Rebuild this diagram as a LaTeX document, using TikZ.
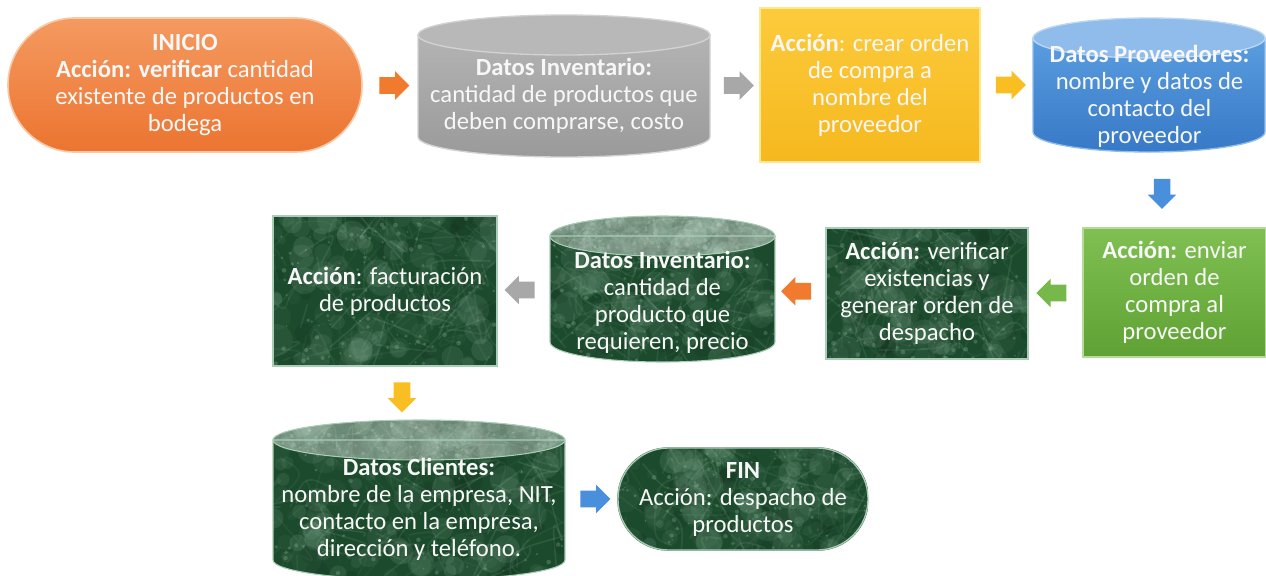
\documentclass[tikz,border=0pt]{standalone}
\usepackage{fontspec}
\setmainfont{Carlito}
\usetikzlibrary{shapes.arrows,calc}
\pgfdeclarelayer{bg}
\pgfsetlayers{bg,main}
\definecolor{orA}{HTML}{F49A60}
\definecolor{orB}{HTML}{EC7430}
\definecolor{orE}{HTML}{F9C9A6}
\definecolor{grB}{HTML}{9A9A9A}
\definecolor{grT}{HTML}{B8B8B8}
\definecolor{grE}{HTML}{D2D2D2}
\definecolor{ylA}{HTML}{FCCB3C}
\definecolor{ylB}{HTML}{F6B81E}
\definecolor{ylE}{HTML}{FDE890}
\definecolor{blA}{HTML}{5A9DE0}
\definecolor{blB}{HTML}{3779C6}
\definecolor{blT}{HTML}{8FBCEA}
\definecolor{gnA}{HTML}{80C052}
\definecolor{gnB}{HTML}{5FA134}
\definecolor{gnE}{HTML}{B5DB98}
\definecolor{mbB}{HTML}{1C4A2D}
\definecolor{mbV}{HTML}{A8CDB4}
\definecolor{mbE}{HTML}{A9CDB6}
\definecolor{txt}{HTML}{F7F7F7}
\definecolor{arO}{HTML}{F07A2E}
\definecolor{arG}{HTML}{A8A8A8}
\definecolor{arY}{HTML}{F8BE22}
\definecolor{arB}{HTML}{4A8FDB}
\definecolor{arN}{HTML}{76B84A}
\newcommand\cylbody[6]{\path[#1] (#2,#3+#6) -- (#2,#5-#6) arc[start angle=180,end angle=360,x radius={(#4-#2)*0.375pt},y radius={#6*0.75pt}] -- (#4,#3+#6) -- cycle;}
\newcommand\cyltop[6]{\path[#1] ({(#2+#4)/2},#3+#6) ellipse[x radius={(#4-#2)*0.375pt},y radius={#6*0.75pt}];}
\newcommand\marbletex[4]{%
  \foreach \k in {1,...,90}{%
    \pgfmathsetmacro\mA{#1+rnd*(#3-#1)}%
    \pgfmathsetmacro\mB{#2+rnd*(#4-#2)}%
    \pgfmathsetmacro\mC{\mA+rand*35}%
    \pgfmathsetmacro\mD{\mB+rand*35}%
    \pgfmathsetmacro\mE{\mA+rand*60}%
    \pgfmathsetmacro\mF{\mB+rand*60}%
    \pgfmathsetmacro\mO{0.04+0.10*rnd}%
    \draw[mbV, opacity=\mO, line width=1.2pt] (\mA,\mB) .. controls (\mC,\mD) .. (\mE,\mF);
  }%
  \foreach \k in {1,...,90}{%
    \pgfmathsetmacro\mA{#1+rnd*(#3-#1)}%
    \pgfmathsetmacro\mB{#2+rnd*(#4-#2)}%
    \pgfmathsetmacro\mR{3+9*rnd}%
    \pgfmathsetmacro\mO{0.04+0.10*rnd}%
    \fill[mbV, opacity=\mO] (\mA,\mB) circle[radius=\mR pt];
  }%
  \foreach \k in {1,...,120}{%
    \pgfmathsetmacro\mA{#1+rnd*(#3-#1)}%
    \pgfmathsetmacro\mB{#2+rnd*(#4-#2)}%
    \pgfmathsetmacro\mR{0.6+1.2*rnd}%
    \fill[mbV, opacity=0.25] (\mA,\mB) circle[radius=\mR pt];
  }%
  \foreach \k in {1,...,30}{%
    \pgfmathsetmacro\mA{#1+rnd*(#3-#1)}%
    \pgfmathsetmacro\mB{#2+rnd*(#4-#2)}%
    \pgfmathsetmacro\mR{3+6*rnd}%
    \fill[black, opacity=0.07] (\mA,\mB) circle[radius=\mR pt];
  }%
}
\tikzset{
  lbl/.style={font=\fontsize{18.5}{20.25}\selectfont, text=txt, align=center, inner sep=0pt},
  ghost/.style={inner sep=0pt, draw=none},
  blk/.style={single arrow, draw=none, minimum height=22.5pt, inner xsep=0pt, inner ysep=6pt,
    single arrow head extend=4.5pt, fill=#1},
}
\begin{document}
\begin{tikzpicture}[x=0.75pt,y=-0.75pt]
\pgfmathsetseed{7}
\useasboundingbox (0,0) rectangle (1266,575);
% ---------- nodes ----------
\node[lbl, rounded corners=50pt, minimum width=265.5pt, minimum height=100.5pt,
  top color=orA, bottom color=orB, draw=orE, line width=1.2pt] (inicio) at (185,85)
  {\textbf{INICIO}\\\textbf{Acción: verificar} cantidad\\existente de productos en\\bodega};
\node[ghost, minimum width=219pt, minimum height=106.5pt] (inv1) at (564,86) {};
\node[lbl] (inv1t) at (564,96) {\textbf{Datos Inventario:}\\cantidad de productos que\\deben comprarse, costo};
\node[lbl, minimum width=165pt, minimum height=115.5pt, top color=ylA, bottom color=ylB,
  draw=ylE, line width=1.2pt] (ordc) at (870,85)
  {\textbf{Acción}: crear orden\\de compra a\\nombre del\\proveedor};
\node[ghost, minimum width=174.75pt, minimum height=100.5pt] (prov) at (1149.5,85) {};
\node[lbl] (provt) at (1149.5,96) {\textbf{Datos Proveedores:}\\nombre y datos de\\contacto del\\proveedor};
\node[lbl, minimum width=137.25pt, minimum height=96.75pt, top color=gnA, bottom color=gnB,
  draw=gnE, line width=1.2pt] (env) at (1174.5,292.5)
  {\textbf{Acción:} enviar\\orden de\\compra al\\proveedor};
\node[lbl, minimum width=151.5pt, minimum height=98.25pt, draw=mbE, line width=1pt] (verif) at (927,293.5)
  {\textbf{Acción:} verificar\\existencias y\\generar orden de\\despacho};
\node[ghost, minimum width=168.75pt, minimum height=109.5pt] (inv2) at (662.5,289) {};
\node[lbl] (inv2t) at (662.5,302) {\textbf{Datos Inventario:}\\cantidad de\\producto que\\requieren, precio};
\node[lbl, minimum width=168pt, minimum height=112.5pt, draw=mbE, line width=1pt] (fact) at (385,291)
  {\textbf{Acción}: facturación\\de productos};
\node[ghost, minimum width=219pt, minimum height=118.5pt] (cli) at (419,499) {};
\node[lbl] (clit) at (419,509) {\textbf{Datos Clientes:}\\nombre de la empresa, NIT,\\contacto en la empresa,\\dirección y teléfono.};
\node[lbl, rounded corners=38pt, minimum width=187.5pt, minimum height=76.5pt, draw=mbE, line width=1pt] (fin) at (743,499)
  {\textbf{FIN}\\Acción: despacho de\\productos};
% ---------- block arrows ----------
\node[blk=arO] (ar1) at ($(inicio.east)!0.5!(inv1.west)$) {};
\node[blk=arG] (ar2) at ($(inv1.east)!0.5!(ordc.west)$) {};
\node[blk=arY] (ar3) at ($(ordc.east)!0.5!(prov.west)$) {};
\node[blk=arB, rotate=-90] (ar4) at ($(prov.south)!0.5!(env.north)$) {};
\node[blk=arN, rotate=180] (ar5) at ($(env.west)!0.5!(verif.east)$) {};
\node[blk=arO, rotate=180] (ar6) at ($(verif.west)!0.5!(inv2.east)$) {};
\node[blk=arG, rotate=180] (ar7) at ($(inv2.west)!0.5!(fact.east)$) {};
\node[blk=arY, rotate=-90] (ar8) at ($(fact.south)!0.5!(cli.north)$) {};
\node[blk=arB] (ar9) at ($(cli.east)!0.5!(fin.west)$) {};
% ---------- backgrounds ----------
\begin{pgfonlayer}{bg}
\fill[white] (0,0) rectangle (1266,575);
% gray cylinder
\cylbody{top color=grB!75!white, bottom color=grB, draw=grE, line width=1pt}{418}{15}{710}{157}{20}
\cyltop{fill=grT, draw=grE, line width=1pt}{418}{15}{710}{157}{20}
% blue cylinder
\cylbody{top color=blA, bottom color=blB, draw=blT, line width=1pt}{1033}{18}{1265}{152}{20}
\cyltop{fill=blT, draw=blT!60!white, line width=1pt}{1033}{18}{1265}{152}{20}
% marble rectangles
\begin{scope}
  \clip (verif.north west) rectangle (verif.south east);
  \fill[mbB] (verif.north west) rectangle (verif.south east);
  \marbletex{826}{228}{1028}{359}
\end{scope}
\begin{scope}
  \clip (fact.north west) rectangle (fact.south east);
  \fill[mbB] (fact.north west) rectangle (fact.south east);
  \marbletex{273}{216}{497}{366}
\end{scope}
\begin{scope}
  \clip[rounded corners=38pt] (fin.north west) rectangle (fin.south east);
  \fill[mbB] (fin.north west) rectangle (fin.south east);
  \marbletex{618}{448}{868}{550}
\end{scope}
% marble cylinder 1
\begin{scope}
  \cylbody{clip}{550}{216}{775}{362}{20}
  \fill[mbB] (550,216) rectangle (775,362);
  \marbletex{550}{216}{775}{362}
\end{scope}
\begin{scope}
  \cyltop{clip}{550}{216}{775}{362}{20}
  \fill[mbB] (550,216) rectangle (775,362);
  \marbletex{550}{216}{775}{256}
  \fill[white, opacity=0.35] (550,216) rectangle (775,362);
\end{scope}
\cylbody{draw=mbE, line width=0.8pt}{550}{216}{775}{362}{20}
\cyltop{draw=mbE, line width=0.8pt}{550}{216}{775}{362}{20}
% marble cylinder 2
\begin{scope}
  \cylbody{clip}{273}{420}{565}{580}{20}
  \fill[mbB] (273,420) rectangle (565,580);
  \marbletex{273}{420}{565}{580}
\end{scope}
\begin{scope}
  \cyltop{clip}{273}{420}{565}{580}{20}
  \fill[mbB] (273,420) rectangle (565,580);
  \marbletex{273}{420}{565}{460}
  \fill[white, opacity=0.35] (273,420) rectangle (565,580);
\end{scope}
\cylbody{draw=mbE, line width=0.8pt}{273}{420}{565}{580}{20}
\cyltop{draw=mbE, line width=0.8pt}{273}{420}{565}{580}{20}
\end{pgfonlayer}
\end{tikzpicture}
\end{document}
